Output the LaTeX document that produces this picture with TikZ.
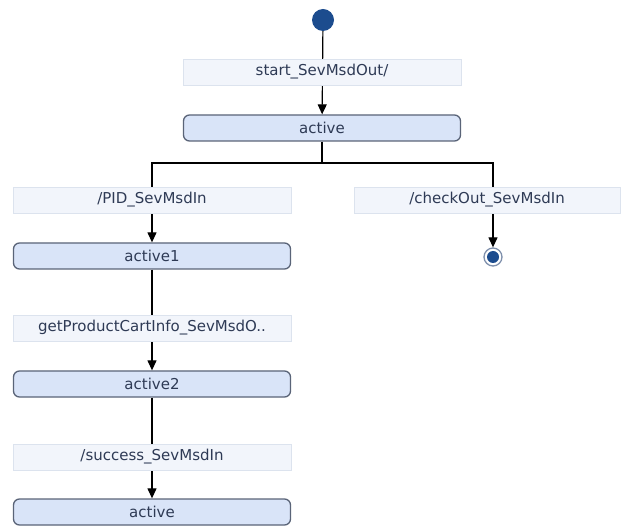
\documentclass[tikz,border=0pt]{standalone}
\usepackage{fontspec}
\setmainfont{DejaVu Sans}
\usetikzlibrary{arrows.meta}

\definecolor{statefill}{HTML}{D9E4F8}
\definecolor{stateline}{HTML}{5A6478}
\definecolor{labelfill}{HTML}{F2F5FB}
\definecolor{labelline}{HTML}{DCE3EE}
\definecolor{labeltext}{HTML}{2E3A55}
\definecolor{pseudoblue}{HTML}{1C4C8E}
\definecolor{finalring}{HTML}{7F90AC}

\tikzset{
  state/.style={draw=stateline, fill=statefill, rounded corners=6pt, line width=1.3pt,
    minimum width=277pt, minimum height=26pt, inner sep=0pt, text=labeltext},
  trans/.style={draw=labelline, fill=labelfill, line width=0.7pt,
    minimum width=278pt, minimum height=26pt, inner sep=0pt, text=labeltext},
  flow/.style={line width=1.2pt, -{Triangle[length=10pt,width=9pt]}},
  wire/.style={line width=1.2pt},
}

\begin{document}
\begin{tikzpicture}[x=1pt, y=-1pt, font=\fontsize{15}{17}\selectfont]
  \useasboundingbox (0,0) rectangle (621,526);

  % states
  \node[state] (s0) at (322,128) {active};
  \node[state] (s1) at (152,256) {active1};
  \node[state] (s2) at (152,384) {active2};
  \node[state] (s3) at (152,512) {active};

  % pseudo states
  \node[circle, fill=pseudoblue, minimum size=22pt, inner sep=0pt] (init) at (323,20) {};
  \node[circle, draw=finalring, line width=1.3pt, fill=white, minimum size=18pt, inner sep=0pt] (final) at (493,257) {};
  \fill[pseudoblue] (final.center) circle (6pt);

  \coordinate (fork) at (322,163);

  % transitions
  \draw[flow] (init) -- (s0);
  \draw[wire] (s0) -- (fork);
  \draw[flow] (fork) -| (s1);
  \draw[flow] (fork) -| (final);
  \draw[flow] (s1) -- (s2);
  \draw[flow] (s2) -- (s3);

  % transition labels on top of the lines
  \node[trans] (t0) at (322,72) {start\_SevMsdOut/};
  \node[trans] (t1) at (152,200) {/PID\_SevMsdIn};
  \node[trans, minimum width=266pt] (t4) at (487,200) {/checkOut\_SevMsdIn};
  \node[trans] (t2) at (152,328) {getProductCartInfo\_SevMsdO..};
  \node[trans] (t3) at (152,457) {/success\_SevMsdIn};
\end{tikzpicture}
\end{document}
